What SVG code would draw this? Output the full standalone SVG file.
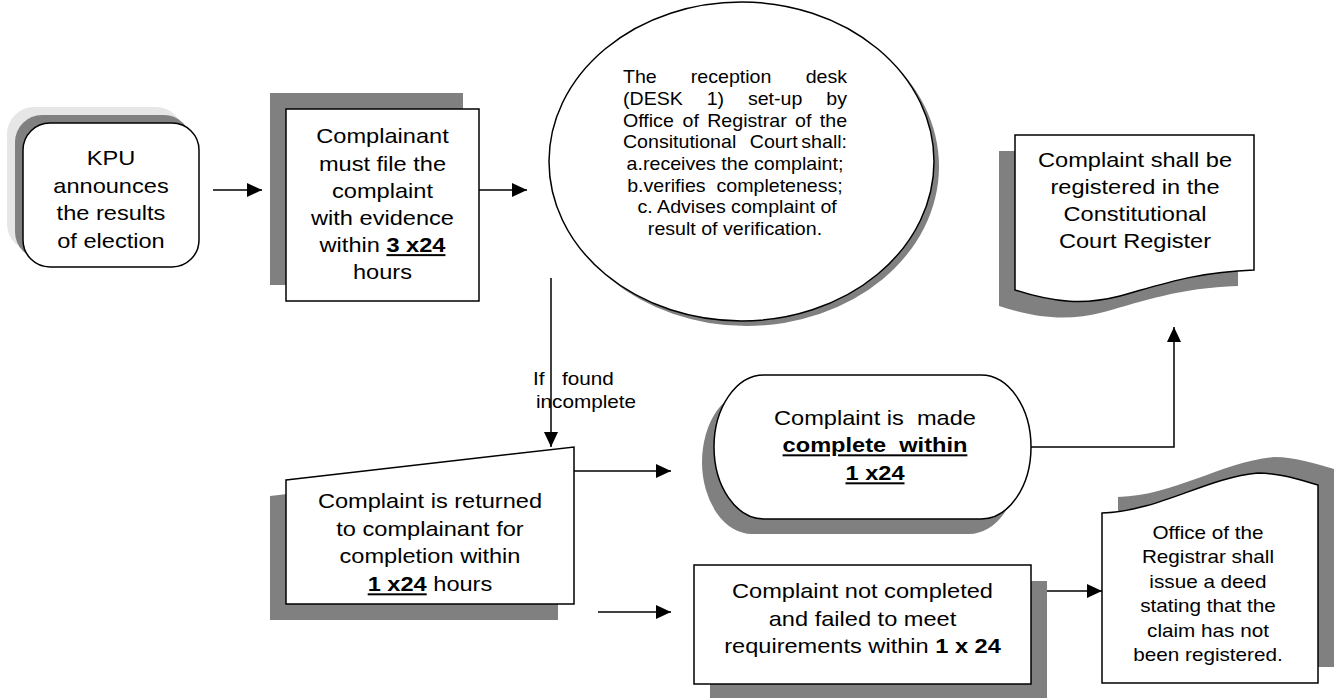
<svg xmlns="http://www.w3.org/2000/svg" width="1339" height="698" viewBox="0 0 1339 698">
<style>
.t{font-family:"Liberation Sans",Arial,sans-serif;fill:#000}
.f20{font-size:20px}
.f18{font-size:18px}
.fe{font-size:18.5px}
.m{text-anchor:middle}
.e{text-anchor:end}
.b{font-weight:bold}
.u{text-decoration:underline}
.box{fill:#fff;stroke:#000;stroke-width:1.5}
.sh{fill:#808080}
.sh2{fill:#e6e6e6}
.conn{fill:none;stroke:#000;stroke-width:1.5;marker-end:url(#ah)}
</style>
<defs>
<marker id="ah" markerUnits="userSpaceOnUse" markerWidth="15" markerHeight="14" refX="15" refY="7" orient="auto">
<path d="M0,0 L15,7 L0,14 Z" fill="#000"/>
</marker>
<path id="docshape" d="M1015,135 H1254 V270 C1195,272 1160,285 1120,296 C1085,305 1055,303 1015,290 Z"/>
<path id="offshape" d="M1102,513 C1160,511 1205,478 1258,473 C1280,473 1300,480 1318,485 V683 H1102 Z"/>
<polygon id="retshape" points="286,480 574,447 574,604 286,604"/>
</defs>
<rect width="1339" height="698" fill="#fff"/>

<g id="connectors">
<path class="conn" d="M213,190 H262"/>
<path class="conn" d="M479,190 H527"/>
<path class="conn" d="M551,278 V447"/>
<path class="conn" d="M574,471 H671"/>
<path class="conn" d="M598,612 H671"/>
<path class="conn" d="M1031,591 H1102"/>
<path class="conn" d="M1031,447 H1174 V327"/>
</g>

<g id="label-incomplete">
<g transform="matrix(1.15,0,0,1,-87.75,0)">
<text class="t f18" x="539.8" y="385">If</text>
<text class="t f18" x="565" y="385">found</text>
<text class="t f18" x="542.4" y="408">incomplete</text>
</g>
</g>

<g id="n-kpu">
<rect class="sh2" x="7" y="107" width="176" height="144" rx="27"/>
<rect class="sh" x="15" y="115" width="176" height="144" rx="27"/>
<rect class="box" x="23" y="123" width="176" height="144" rx="27"/>
<g transform="matrix(1.18,0,0,1,-19.98,0)">
<text class="t f20 m" x="111" y="165.5">KPU</text>
<text class="t f20 m" x="111" y="193">announces</text>
<text class="t f20 m" x="111" y="220.5">the results</text>
<text class="t f20 m" x="111" y="248">of election</text>
</g>
</g>

<g id="n-file">
<rect class="sh" x="270" y="93" width="193" height="192"/>
<rect class="box" x="286" y="109" width="193" height="192"/>
<g transform="matrix(1.18,0,0,1,-68.85,0)">
<text class="t f20 m" x="382.5" y="143.5">Complainant</text>
<text class="t f20 m" x="382.5" y="170.7">must file the</text>
<text class="t f20 m" x="382.5" y="197.9">complaint</text>
<text class="t f20 m" x="382.5" y="225.1">with evidence</text>
<text class="t f20 m" x="382.5" y="252.3">within <tspan class="b u">3 x24</tspan></text>
<text class="t f20 m" x="382.5" y="279.5">hours</text>
</g>
</g>

<g id="n-desk">
<ellipse class="sh" cx="746.5" cy="166.5" rx="192.5" ry="159.5"/>
<ellipse class="box" cx="741.5" cy="161.5" rx="192.5" ry="159.5"/>
<g transform="matrix(1.06,0,0,1,-44.1,0)">
<text class="t fe" x="629.3" y="83.5">The</text>
<text class="t fe" x="693.3" y="83.5">reception</text>
<text class="t fe e" x="840.7" y="83.5">desk</text>
<text class="t fe" x="629.3" y="105.2">(DESK</text>
<text class="t fe" x="708.3" y="105.2">1)</text>
<text class="t fe" x="747.2" y="105.2">set-up</text>
<text class="t fe e" x="840.7" y="105.2">by</text>
<text class="t fe" x="629.3" y="126.8">Office</text>
<text class="t fe" x="685.5" y="126.8">of</text>
<text class="t fe" x="708.8" y="126.8">Registrar</text>
<text class="t fe" x="791.7" y="126.8">of</text>
<text class="t fe e" x="840.7" y="126.8">the</text>
<text class="t fe" x="629.3" y="148.5">Consitutional</text>
<text class="t fe" x="748.9" y="148.5">Court</text>
<text class="t fe e" x="840.7" y="148.5">shall:</text>
<text class="t fe m" x="735" y="170.2">a.receives the complaint;</text>
<text class="t fe m" x="735" y="191.8" xml:space="preserve">b.verifies  completeness;</text>
<text class="t fe m" x="737" y="213.5">c. Advises complaint of</text>
<text class="t fe m" x="735" y="235.2">result of verification.</text>
</g>
</g>

<g id="n-register">
<use href="#docshape" class="sh" transform="translate(-16,16)"/>
<use href="#docshape" class="box"/>
<g transform="matrix(1.18,0,0,1,-204.3,0)">
<text class="t f20 m" x="1135" y="167">Complaint shall be</text>
<text class="t f20 m" x="1135" y="194">registered in the</text>
<text class="t f20 m" x="1135" y="221">Constitutional</text>
<text class="t f20 m" x="1135" y="248">Court Register</text>
</g>
</g>

<g id="n-returned">
<use href="#retshape" class="sh" transform="translate(-16,16)"/>
<use href="#retshape" class="box"/>
<g transform="matrix(1.18,0,0,1,-77.4,0)">
<text class="t f20 m" x="430" y="508.5">Complaint is returned</text>
<text class="t f20 m" x="430" y="536">to complainant for</text>
<text class="t f20 m" x="430" y="563.5">completion within</text>
<text class="t f20 m" x="430" y="591.5"><tspan class="b u">1 x24</tspan> hours</text>
</g>
</g>

<g id="n-complete">
<rect class="sh" x="702" y="390" width="317" height="144" rx="50" ry="72"/>
<rect class="box" x="714" y="375" width="317" height="144" rx="50" ry="72"/>
<g transform="matrix(1.18,0,0,1,-157.5,0)">
<text class="t f20 m" x="875" y="425" xml:space="preserve">Complaint is  made</text>
<text class="t f20 m b u" x="875" y="452.5" xml:space="preserve">complete  within</text>
<text class="t f20 m b u" x="875" y="480.5">1 x24</text>
</g>
</g>

<g id="n-notcompleted">
<rect class="sh" x="710" y="581" width="337" height="119"/>
<rect class="box" x="694" y="565" width="337" height="119"/>
<g transform="matrix(1.18,0,0,1,-155.25,0)">
<text class="t f20 m" x="862.5" y="598">Complaint not completed</text>
<text class="t f20 m" x="862.5" y="626">and failed to meet</text>
<text class="t f20 m" x="862.5" y="653">requirements within <tspan class="b">1 x 24</tspan></text>
</g>
</g>

<g id="n-deed">
<use href="#offshape" class="sh" transform="translate(16,-16)"/>
<use href="#offshape" class="box"/>
<g transform="matrix(1.15,0,0,1,-181.2,0)">
<text class="t f18 m" x="1208" y="539">Office of the</text>
<text class="t f18 m" x="1208" y="563.5">Registrar shall</text>
<text class="t f18 m" x="1208" y="588">issue a deed</text>
<text class="t f18 m" x="1208" y="612.5">stating that the</text>
<text class="t f18 m" x="1208" y="637">claim has not</text>
<text class="t f18 m" x="1208" y="661.5">been registered.</text>
</g>
</g>
</svg>
